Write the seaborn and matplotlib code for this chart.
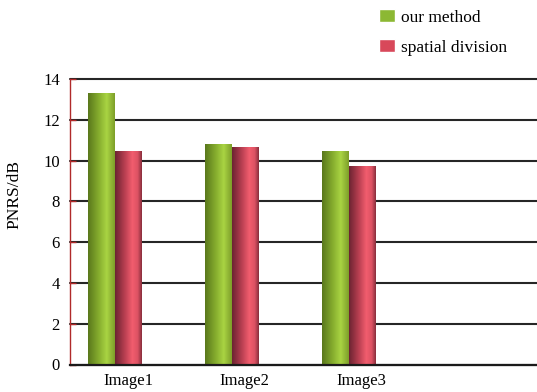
import numpy as np
import pandas as pd
import matplotlib
matplotlib.use("Agg")
import matplotlib.pyplot as plt
import seaborn as sns
from matplotlib.colors import LinearSegmentedColormap
from matplotlib.patches import Patch

images = ["Image1", "Image2", "Image3"]
our_method = [13.3, 10.8, 10.45]
spatial_division = [10.47, 10.65, 9.75]
methods = ["our method", "spatial division"]

df = pd.DataFrame({
    "image": images * 2,
    "PNRS": our_method + spatial_division,
    "method": [methods[0]] * 3 + [methods[1]] * 3,
})

sns.set_style("white")
plt.rcParams["font.family"] = ["Liberation Serif", "DejaVu Serif"]
plt.rcParams["text.color"] = "black"
plt.rcParams["axes.labelcolor"] = "black"
plt.rcParams["xtick.labelcolor"] = "black"
plt.rcParams["ytick.labelcolor"] = "black"

# cylinder-like gradients across each bar
green_cmap = LinearSegmentedColormap.from_list(
    "g", [(0, "#5a781c"), (0.4, "#86ad2e"), (0.7, "#a9d443"), (1, "#7e9f2a")])
red_cmap = LinearSegmentedColormap.from_list(
    "r", [(0, "#6c2432"), (0.35, "#b63e50"), (0.65, "#f25d6e"), (0.85, "#dc5263"), (1, "#8a2f3e")])

fig = plt.figure(figsize=(5.37, 3.92), dpi=100)
ax = fig.add_axes([69.5 / 537, 27.5 / 392, 467.5 / 537, 285.5 / 392])

sns.barplot(data=df, x="image", y="PNRS", hue="method", order=images,
            hue_order=methods, palette=["#8cb833", "#d8485a"],
            width=0.45, ax=ax, legend=False, errorbar=None)

grad = np.linspace(0, 1, 64).reshape(1, -1)
for i, bar in enumerate(ax.patches):
    cmap = green_cmap if i < len(images) else red_cmap
    bar.set_x(bar.get_x() - 0.1125)
    x0, w, h = bar.get_x(), bar.get_width(), bar.get_height()
    bar.set_facecolor("none")
    bar.set_edgecolor("none")
    im = ax.imshow(grad, cmap=cmap, extent=[x0, x0 + w, 0, h],
                   aspect="auto", zorder=2)
    im.set_clip_path(bar)

ax.set_xlim(-0.5, 3.48)
ax.set_ylim(0, 14)
ax.set_yticks(range(0, 15, 2))
ax.set_axisbelow(True)
ax.yaxis.grid(True, color="#262626", lw=1.5)
for gl in ax.get_ygridlines():
    gl.set_clip_on(False)

sns.despine(ax=ax, top=True, right=True)
ax.spines["left"].set_color("#b02a2a")
ax.spines["left"].set_linewidth(1.0)
ax.spines["bottom"].set_color("#1a1a1a")
ax.spines["bottom"].set_linewidth(1.6)

ax.set_xticks(range(len(images)))
ax.set_xticklabels(images, fontsize=12)
ax.set_xticks([0.5, 1.5, 2.5, 3.5], minor=True)
ax.tick_params(axis="x", which="major", length=0, pad=6)
ax.tick_params(axis="x", which="minor", direction="in", length=6.5,
               width=1.5, color="#1a1a1a")
ax.tick_params(axis="y", direction="in", length=4.5, width=1.0,
               color="#b02a2a", labelsize=12, pad=7, left=True)

ax.set_xlabel("")
ax.set_ylabel("PNRS/dB", fontsize=12.5)
ax.yaxis.set_label_coords(-0.10, 0.597)

handles = [Patch(facecolor="#8cb833"), Patch(facecolor="#d8485a")]
fig.legend(handles, methods, loc="upper left",
           bbox_to_anchor=(379 / 537, 1 - 9 / 392), frameon=False,
           fontsize=12.5, handlelength=0.92, handleheight=0.8,
           handletextpad=0.35, labelspacing=0.78, borderpad=0,
           borderaxespad=0)

fig.savefig("out.png", dpi=100)
